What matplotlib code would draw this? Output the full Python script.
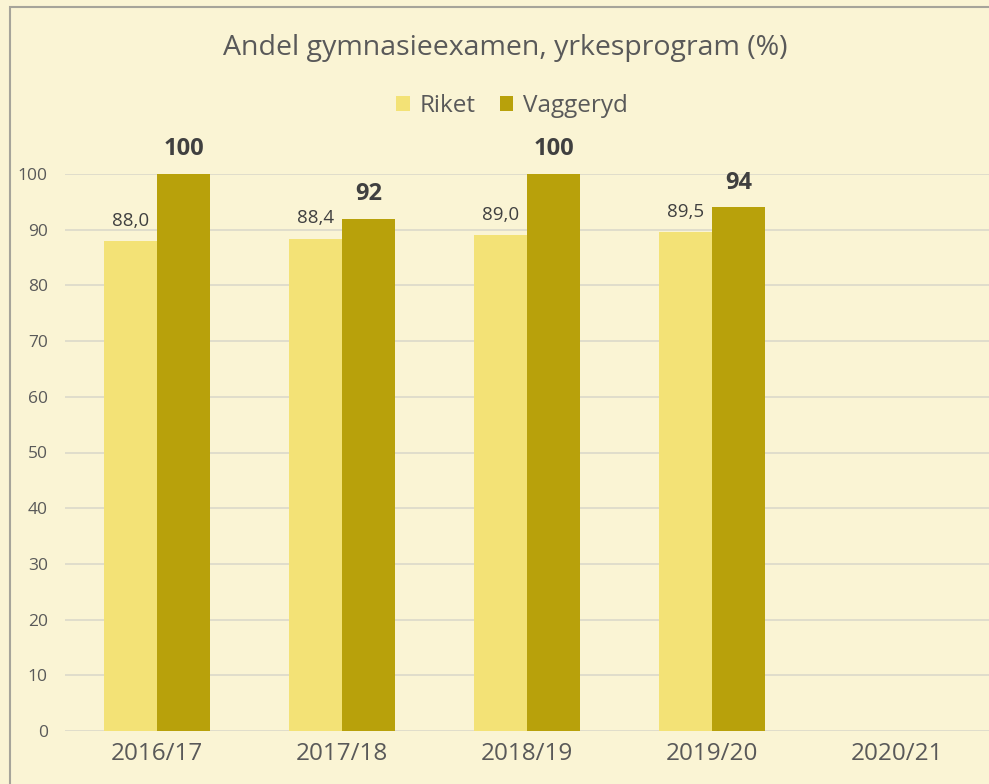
import numpy as np
from matplotlib import pyplot as plt
from matplotlib.patches import Rectangle

# Data
years = ['2016/17', '2017/18', '2018/19', '2019/20', '2020/21']
riket = [88.0, 88.4, 89.0, 89.5, np.nan]
vaggeryd = [100, 92, 100, 94, np.nan]

bg = '#FAF4D4'
c_riket = '#F3E276'
c_vagg = '#B8A10B'
txt = '#595959'

plt.rcParams['font.family'] = ['Open Sans', 'DejaVu Sans']

fig = plt.figure(figsize=(9.89, 7.84), dpi=100, facecolor=bg)
ax = fig.add_axes([64.5 / 989, 53 / 784, 925 / 989, 557 / 784])
ax.set_facecolor(bg)

# chart border (cropped on right/bottom)
fig.patches.append(Rectangle((10 / 989, -0.1), 1.2, (784 - 7) / 784 + 0.1,
                             transform=fig.transFigure, fill=False,
                             edgecolor='#A6A49A', linewidth=1.5))

x = np.arange(len(years))
w = 0.287
ax.bar(x - w / 2, riket, w, color=c_riket, label='Riket', zorder=3)
ax.bar(x + w / 2, vaggeryd, w, color=c_vagg, label='Vaggeryd', zorder=3)

for i in range(len(years)):
    if not np.isnan(riket[i]):
        ax.text(x[i] - w / 2, riket[i] + 2.0, f'{riket[i]:.1f}'.replace('.', ','),
                ha='center', va='bottom', fontsize=13.5, color='#404040')
    if not np.isnan(vaggeryd[i]):
        ax.text(x[i] + w / 2, vaggeryd[i] + 2.3, f'{vaggeryd[i]:.0f}',
                ha='center', va='bottom', fontsize=17, fontweight='bold',
                color='#404040')

ax.set_xlim(-0.5, len(years) - 0.5)
ax.set_ylim(0, 100)
ax.set_yticks(range(0, 101, 10))
ax.set_xticks(x)
ax.set_xticklabels(years)
ax.tick_params(axis='y', length=0, labelsize=12.5, labelcolor=txt, pad=12)
ax.tick_params(axis='x', length=0, labelsize=17.5, labelcolor=txt, pad=8)
ax.grid(axis='y', color='#DEDBCB', linewidth=1.3, zorder=0)
for s in ax.spines.values():
    s.set_visible(False)

fig.text(505 / 989, 1 - 48 / 784, 'Andel gymnasieexamen, yrkesprogram (%)',
         ha='center', va='center', fontsize=20.5, color=txt)
fig.legend(loc='center', bbox_to_anchor=(512 / 989, 1 - 106 / 784), ncol=2,
           frameon=False, fontsize=17.5, handlelength=0.55, handleheight=0.55,
           handletextpad=0.4, columnspacing=1.0, labelcolor=txt)

fig.savefig('out.png', dpi=100, facecolor=bg)
